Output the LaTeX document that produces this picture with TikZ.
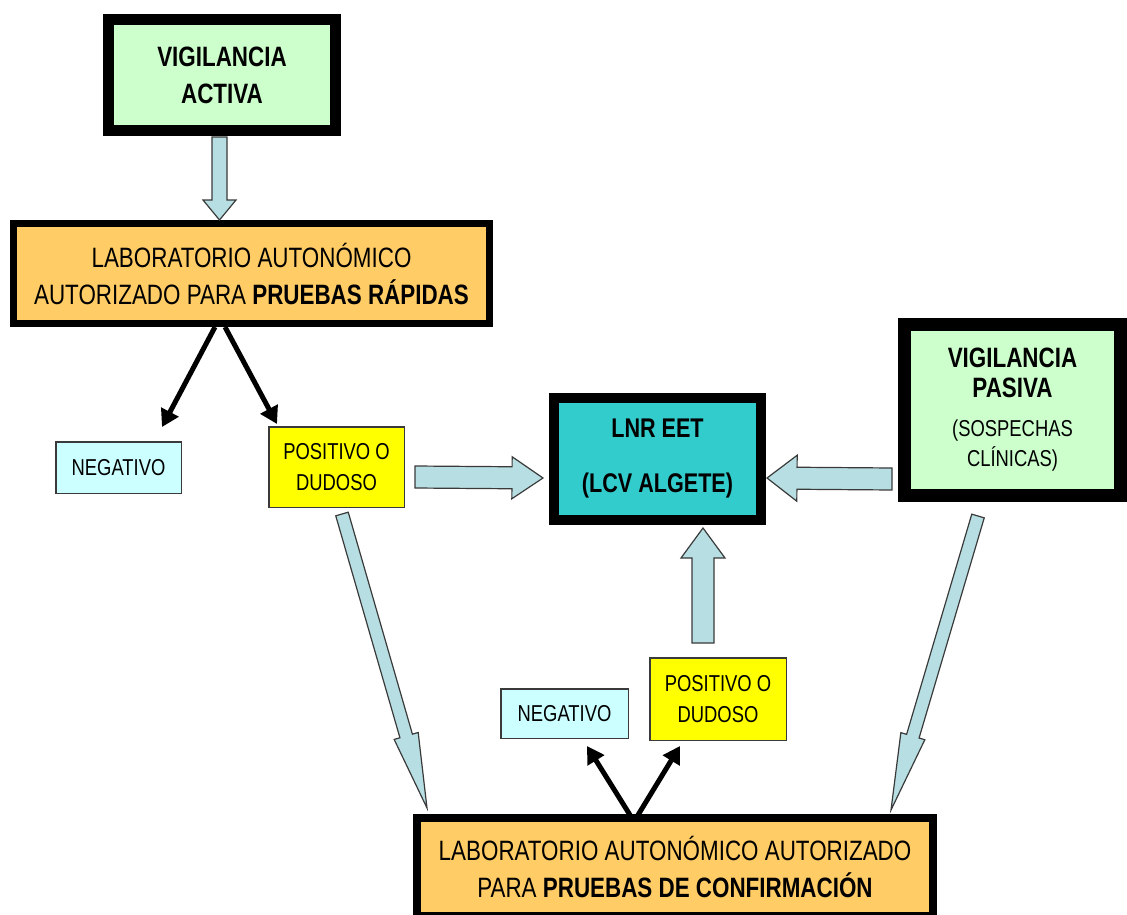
\documentclass[tikz,border=0pt]{standalone}
\usepackage{fontspec}
\setmainfont{Liberation Sans}[FakeStretch=0.8]
\usetikzlibrary{calc,arrows.meta}
\definecolor{boxorange}{HTML}{FFCC66}
\definecolor{boxgreen}{HTML}{CCFFCC}
\definecolor{boxcyan}{HTML}{CCFFFF}
\definecolor{boxyellow}{HTML}{FFFF00}
\definecolor{boxteal}{HTML}{33CCCC}
\definecolor{arrfill}{HTML}{B7DEE2}
\definecolor{arrline}{HTML}{3A3A3A}
\newcommand\blockarrow[5]{%
  \coordinate (bh) at ($(#2)!#5!(#1)$);
  \draw[blockarr] ($(#1)!#3!90:(#2)$) -- ($(bh)!#3!90:(#2)$) -- ($(bh)!#4!90:(#2)$) -- (#2)
    -- ($(bh)!#4!-90:(#2)$) -- ($(bh)!#3!-90:(#2)$) -- ($(#1)!#3!-90:(#2)$) -- cycle;}
\tikzset{
  box/.style={draw=black, inner sep=0pt, align=center, text=black},
  smallbox/.style={draw=arrline, line width=1.5pt, inner sep=0pt, align=center,
    font=\fontsize{23}{31}\selectfont},
  blockarr/.style={draw=arrline, line width=1.2pt, fill=arrfill, line join=miter},
  blackarr/.style={line width=5pt, -{Triangle[length=17pt,width=19pt]}},
  bigfont/.style={font=\fontsize{28}{37}\selectfont},
  bigbold/.style={font=\fontsize{28}{37}\selectfont\bfseries},
}
\begin{document}
\begin{tikzpicture}[x=1pt,y=-1pt]
\useasboundingbox (0,0) rectangle (1127,915);
% boxes
\node[box, fill=boxgreen, line width=11pt, minimum width=227pt, minimum height=111pt,
  bigbold] (act) at (222,75) {VIGILANCIA\\ACTIVA};
\node[box, fill=boxorange, line width=7pt, minimum width=476pt, minimum height=100pt,
  bigfont] (lab1) at (251.5,273.5) {LABORATORIO AUTONÓMICO\\AUTORIZADO PARA \textbf{PRUEBAS RÁPIDAS}};
\node[smallbox, fill=boxcyan, minimum width=125.5pt, minimum height=51.5pt] (neg1) at (118.5,467.5) {NEGATIVO};
\node[smallbox, fill=boxyellow, minimum width=135.5pt, minimum height=80.5pt] (pos1) at (336.5,467) {POSITIVO O\\DUDOSO};
\node[box, fill=boxteal, line width=10pt, minimum width=207pt, minimum height=122pt,
  font=\fontsize{27}{37}\selectfont\bfseries] (lnr) at (657.5,459) {LNR EET\\[18pt](LCV ALGETE)};
\node[box, fill=boxgreen, line width=13pt, minimum width=216pt, minimum height=171pt,
  font=\fontsize{23}{30}\selectfont] (pas) at (1012.5,410)
  {{\fontsize{28}{30}\selectfont\bfseries VIGILANCIA}\\{\fontsize{28}{30}\selectfont\bfseries PASIVA}\\[9pt]
   (SOSPECHAS\\CLÍNICAS)};
\node[smallbox, fill=boxcyan, minimum width=127.5pt, minimum height=49.5pt] (neg2) at (564.5,713.5) {NEGATIVO};
\node[smallbox, fill=boxyellow, minimum width=136.5pt, minimum height=82.5pt] (pos2) at (718,699) {POSITIVO O\\DUDOSO};
\node[box, fill=boxorange, line width=8pt, minimum width=516pt, minimum height=98pt,
  bigfont] (lab2) at (675,867) {LABORATORIO AUTONÓMICO AUTORIZADO\\PARA \textbf{PRUEBAS DE CONFIRMACIÓN}};
% block arrow end points
\coordinate (a1s) at (219.5,137);  \coordinate (a1e) at (219.5,220);
\coordinate (a2s) at (415,477);    \coordinate (a2e) at (543,478);
\coordinate (a3s) at (892,479);    \coordinate (a3e) at (767,478);
\coordinate (a4s) at (703,643);    \coordinate (a4e) at (703,528);
\coordinate (a5s) at (342,514);    \coordinate (a5e) at (427,808);
\coordinate (a6s) at (978,516);    \coordinate (a6e) at (891,810);
\blockarrow{a1s}{a1e}{7.5pt}{16.5pt}{20pt}
\blockarrow{a2s}{a2e}{11pt}{21pt}{31pt}
\blockarrow{a3s}{a3e}{11pt}{23pt}{30pt}
\blockarrow{a4s}{a4e}{11pt}{22pt}{30pt}
\blockarrow{a5s}{a5e}{6.5pt}{12.5pt}{75pt}
\blockarrow{a6s}{a6e}{6.5pt}{12.5pt}{77pt}
% black arrows
\coordinate (b1s) at (215,327); \coordinate (b1e) at (162,427);
\coordinate (b2s) at (225,327); \coordinate (b2e) at (277,424);
\coordinate (b3s) at (630,815); \coordinate (b3e) at (587,746);
\coordinate (b4s) at (638,815); \coordinate (b4e) at (680,746);
\draw[blackarr] (b1s) -- (b1e);
\draw[blackarr] (b2s) -- (b2e);
\draw[blackarr] (b3s) -- (b3e);
\draw[blackarr] (b4s) -- (b4e);
\end{tikzpicture}
\end{document}
